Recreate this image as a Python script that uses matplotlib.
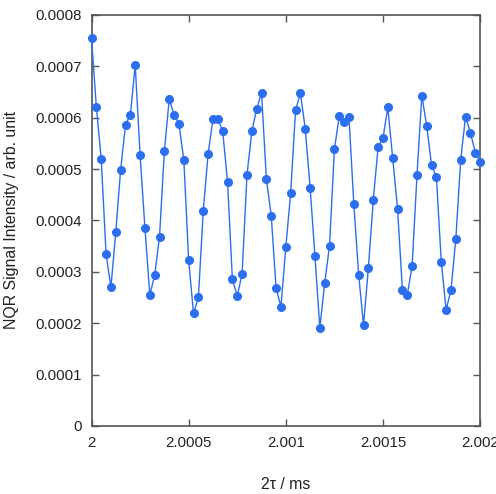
import numpy as np
import matplotlib
matplotlib.use("Agg")
import matplotlib.pyplot as plt

plt.rcParams['font.family'] = ['Liberation Sans', 'DejaVu Sans']

x_start = 2.0
x_step = 0.000025
signal_e4 = [
    7.55, 6.20, 5.19, 3.34, 2.70, 3.78, 4.99, 5.86, 6.06, 7.02,
    5.27, 3.85, 2.55, 2.93, 3.68, 5.35, 6.36, 6.05, 5.88, 5.18,
    3.22, 2.19, 2.50, 4.18, 5.29, 5.97, 5.98, 5.74, 4.75, 2.86,
    2.53, 2.96, 4.88, 5.73, 6.17, 6.48, 4.80, 4.09, 2.68, 2.32,
    3.48, 4.53, 6.14, 6.48, 5.78, 4.64, 3.30, 1.91, 2.78, 3.51,
    5.38, 6.03, 5.91, 6.01, 4.32, 2.94, 1.96, 3.08, 4.39, 5.43,
    5.60, 6.20, 5.21, 4.23, 2.65, 2.55, 3.11, 4.88, 6.43, 5.84,
    5.08, 4.84, 3.20, 2.26, 2.65, 3.64, 5.18, 6.02, 5.71, 5.32,
    5.14,
]
xticks = [2, 2.0005, 2.001, 2.0015, 2.002]
xticklabels = ['2', '2.0005', '2.001', '2.0015', '2.002']
yticks = [0, 0.0001, 0.0002, 0.0003, 0.0004, 0.0005, 0.0006, 0.0007, 0.0008]
yticklabels = ['0', '0.0001', '0.0002', '0.0003', '0.0004', '0.0005', '0.0006', '0.0007', '0.0008']

y = np.array(signal_e4) * 1e-4
x = x_start + x_step * np.arange(len(y))

fig = plt.figure(figsize=(4.96, 4.94), dpi=100)
ax = fig.add_axes([0.1845, 0.1377, 0.968 - 0.1845, 0.970 - 0.1377])
color = '#2b6ff0'
ax.plot(x, y, '-', color=color, lw=1.0, marker='o', ms=5.5, mec=color, mfc=color, clip_on=False, zorder=3)
ax.set_xlim(2.0, 2.002)
ax.set_ylim(0, 0.0008)
ax.set_xticks(xticks)
ax.set_xticklabels(xticklabels)
ax.set_yticks(yticks)
ax.set_yticklabels(yticklabels)
ax.tick_params(direction='in', length=5, width=1, color='#555555', labelsize=10.8,
               top=True, right=True, pad=7, labelcolor='#222222')
for s in ax.spines.values():
    s.set_color('#555555')
    s.set_linewidth(1.2)
ax.set_xlabel('2τ / ms', fontsize=11.4, labelpad=20, color='#222222')
ax.set_ylabel('NQR Signal Intensity / arb. unit', fontsize=11.4, labelpad=12, color='#222222')

fig.savefig('out.png', dpi=100)
